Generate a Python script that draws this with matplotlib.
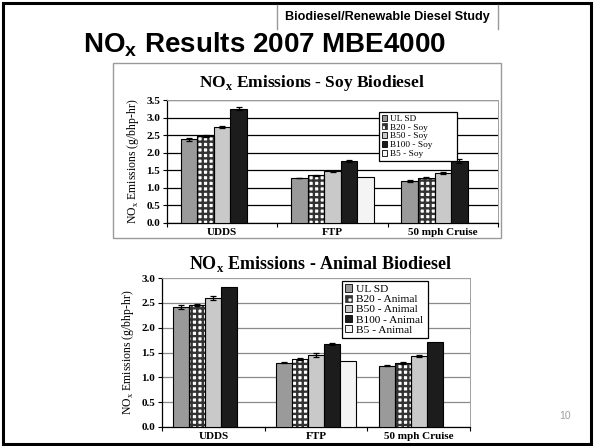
import numpy as np
import matplotlib.pyplot as plt
from matplotlib.patches import Rectangle, Patch
from matplotlib.lines import Line2D

# ---- data ----
cycles = ["UDDS", "FTP", "50 mph Cruise"]

soy_labels = ["UL SD", "B20 - Soy", "B50 - Soy", "B100 - Soy", "B5 - Soy"]
soy_ulsd = [2.38, 1.28, 1.20]
soy_b20 = [2.48, 1.36, 1.29]
soy_b50 = [2.74, 1.47, 1.42]
soy_b100 = [3.25, 1.77, 1.77]
soy_b5 = [np.nan, 1.31, np.nan]
soy_err = [
    [0.05, 0.01, 0.02],
    [0.03, 0.01, 0.02],
    [0.03, 0.01, 0.03],
    [0.04, 0.02, 0.05],
    [0.0, 0.0, 0.0],
]

animal_labels = ["UL SD", "B20 - Animal", "B50 - Animal", "B100 - Animal", "B5 - Animal"]
animal_ulsd = [2.41, 1.29, 1.23]
animal_b20 = [2.46, 1.36, 1.29]
animal_b50 = [2.59, 1.45, 1.43]
animal_b100 = [2.81, 1.68, 1.72]
animal_b5 = [np.nan, 1.32, np.nan]
animal_err = [
    [0.04, 0.01, 0.01],
    [0.02, 0.02, 0.02],
    [0.04, 0.04, 0.02],
    [0.0, 0.02, 0.0],
    [0.0, 0.0, 0.0],
]

W, H = 594, 446
SERIF = "Liberation Serif"
SANS = "Liberation Sans"

# bar styles: (facecolor, hatch)
styles = [
    ("#9a9a9a", None),
    ("white", "+++"),
    ("#c9c9c9", None),
    ("#1c1c1c", None),
    ("#f4f4f4", None),
]

plt.rcParams["hatch.linewidth"] = 1.7


def px_axes(fig, left, top, right, bottom):
    return fig.add_axes([left / W, 1 - bottom / H, (right - left) / W, (bottom - top) / H])


def draw_chart(ax, series, errs, labels, ymax, bw, grid_color, legend_box, legend_fs,
               title, title_xy, title_fs):
    x = np.arange(len(cycles))
    n = len(series)
    for i, (vals, err) in enumerate(zip(series, errs)):
        pos = x + (i - (n - 1) / 2) * bw
        fc, hatch = styles[i]
        vals = np.array(vals, dtype=float)
        if hatch:
            ax.bar(pos, vals, bw, color=fc, edgecolor="#333333", hatch=hatch, lw=0, zorder=3)
            ax.bar(pos, vals, bw, fill=False, edgecolor="black", lw=0.8, zorder=4)
        else:
            ax.bar(pos, vals, bw, color=fc, edgecolor="black", lw=0.8, zorder=3)
        e = np.array(err)
        ok = ~np.isnan(vals) & (e > 0)
        ax.errorbar(pos[ok], vals[ok], yerr=e[ok], fmt="none", ecolor="black",
                    elinewidth=0.9, capsize=2, capthick=0.9, zorder=5)

    ticks = np.arange(0, ymax + 0.01, 0.5)
    ax.set_xlim(-0.5, len(cycles) - 0.5)
    ax.set_ylim(0, ymax)
    ax.set_yticks(ticks)
    ax.set_yticklabels([f"{v:.1f}" for v in ticks], family=SERIF, fontweight="bold", fontsize=8)
    ax.set_xticks(np.arange(-0.5, len(cycles)))
    ax.set_xticklabels([])
    ax.tick_params(axis="x", length=3, width=0.8, direction="out")
    ax.tick_params(axis="y", length=3, width=0.8, direction="out", pad=2)
    for i, c in enumerate(cycles):
        ax.annotate(c, (i, 0), xycoords=("data", "axes fraction"), xytext=(0, -6.5),
                    textcoords="offset points", ha="center", va="center",
                    family=SERIF, fontweight="bold", fontsize=8)
    ax.grid(axis="y", color=grid_color, lw=0.9, zorder=0)
    ax.set_axisbelow(True)
    for s in ["top", "right"]:
        ax.spines[s].set_color("#a0a0a0")
        ax.spines[s].set_linewidth(0.7)
    for s in ["left", "bottom"]:
        ax.spines[s].set_color("black")
        ax.spines[s].set_linewidth(0.9)
    ax.set_ylabel("NO$_\\mathregular{x}$ Emissions (g/bhp-hr)", family=SERIF, fontsize=8.5,
                  labelpad=4)

    handles = [Patch(facecolor=styles[i][0], edgecolor="#333333" if styles[i][1] else "black",
                     hatch=styles[i][1], lw=0.6) for i in range(n)]
    lx0, ly0, lx1 = legend_box
    leg = ax.legend(handles, labels, loc="upper left",
                    bbox_to_anchor=(lx0 / W, 1 - ly0 / H, (lx1 - lx0) / W, 0),
                    bbox_transform=ax.figure.transFigure, mode="expand",
                    prop={"family": SERIF, "size": legend_fs}, frameon=True, fancybox=False,
                    edgecolor="black", framealpha=1, borderpad=0.3, labelspacing=0.05,
                    handlelength=0.6, handleheight=0.6, handletextpad=0.3, borderaxespad=0)
    leg.get_frame().set_linewidth(0.9)
    leg.set_zorder(10)

    ax.figure.text(title_xy[0] / W, 1 - title_xy[1] / H, title, ha="center", va="center",
                   family=SERIF, fontweight="bold", fontsize=title_fs)


fig = plt.figure(figsize=(W / 100, H / 100), dpi=100)

# slide frame and header
fig.patches.append(Rectangle((3 / W, 2 / H), 588 / W, 441 / H, transform=fig.transFigure,
                             fill=False, edgecolor="black", lw=2.2))
fig.add_artist(Line2D([277 / W, 277 / W], [1 - 5 / H, 1 - 29 / H], color="#9a9a9a", lw=1))
fig.add_artist(Line2D([498 / W, 498 / W], [1 - 5 / H, 1 - 29 / H], color="#9a9a9a", lw=1))
fig.text(387 / W, 1 - 17 / H, "Biodiesel/Renewable Diesel Study", ha="center", va="center",
         family=SANS, fontweight="bold", fontsize=9.1)
fig.text(264 / W, 1 - 45 / H, "NO$_\\mathregular{x}$ Results 2007 MBE4000", ha="center",
         va="center", family=SANS, fontweight="bold", fontsize=20)
fig.text(565 / W, 1 - 416 / H, "10", ha="center", va="center", family=SANS,
         fontsize=7.5, color="#a0a0a0")

# top chart box
fig.patches.append(Rectangle((113 / W, 1 - 238 / H), 388 / W, 175 / H, transform=fig.transFigure,
                             fill=False, edgecolor="#9a9a9a", lw=1))

ax1 = px_axes(fig, 167, 100, 498, 223)
draw_chart(ax1, [soy_ulsd, soy_b20, soy_b50, soy_b100, soy_b5], soy_err, soy_labels,
           3.5, 0.15, "black", (379, 112, 457), 6.7,
           "NO$_\\mathregular{x}$ Emissions - Soy Biodiesel", (312, 83), 12.5)

ax2 = px_axes(fig, 162, 278, 470, 427)
draw_chart(ax2, [animal_ulsd, animal_b20, animal_b50, animal_b100, animal_b5], animal_err,
           animal_labels, 3.0, 0.156, "#8a8a8a", (342, 281, 428), 8.2,
           "NO$_\\mathregular{x}$ Emissions - Animal Biodiesel", (320, 264), 13)

fig.savefig("out.png", dpi=100)
